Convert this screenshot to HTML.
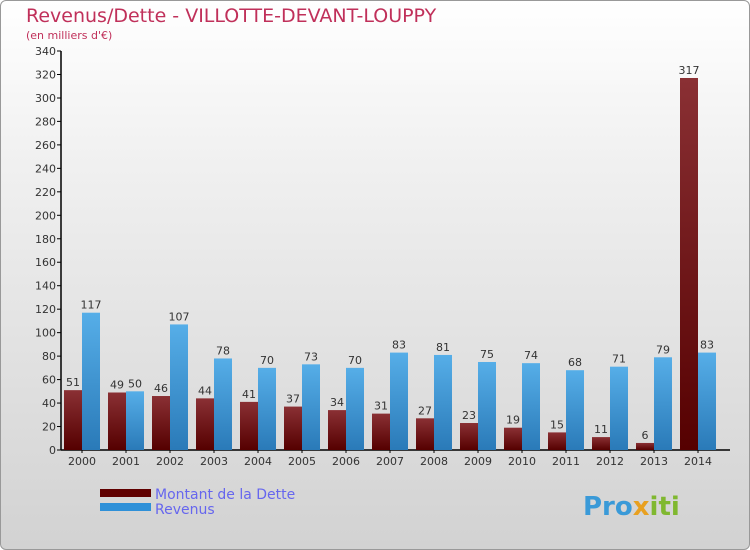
<!DOCTYPE html>
<html><head><meta charset="utf-8"><style>
body{margin:0}
#c{width:748px;height:548px;border:1px solid #999;border-radius:6px;overflow:hidden;background:linear-gradient(#ffffff,#f0f0f0 30%,#d2d2d2);position:relative;font-family:"DejaVu Sans","Liberation Sans",sans-serif}
</style></head><body>
<div id="c">
<svg width="750" height="550" style="position:absolute;left:-1px;top:-1px" id="svg">
<defs>
<linearGradient id="gd" x1="0" y1="0" x2="0" y2="1"><stop offset="0" stop-color="#8a3034"/><stop offset="1" stop-color="#550000"/></linearGradient>
<linearGradient id="gr" x1="0" y1="0" x2="0" y2="1"><stop offset="0" stop-color="#56aee8"/><stop offset="1" stop-color="#2a7ab8"/></linearGradient>
</defs>
<text x="26" y="22" font-size="19" fill="#c0305a">Revenus/Dette - VILLOTTE-DEVANT-LOUPPY</text>
<text x="26" y="39" font-size="11" fill="#c0305a">(en milliers d'€)</text>
<g id="axes"></g><g id="bars"></g>
<rect x="100" y="489" width="51" height="8" fill="#600000"/>
<rect x="100" y="503" width="51" height="8" fill="#2e90d8"/>
<text x="155" y="499" font-size="14" fill="#6666ee">Montant de la Dette</text>
<text x="155" y="514" font-size="14" fill="#6666ee">Revenus</text>
<text x="583" y="515" font-size="26" font-weight="bold" fill="#3a9ad8">Pro<tspan fill="#e8a020">x</tspan><tspan fill="#80b830">iti</tspan></text>
</svg>
</div>
<script>
const years=["2000","2001","2002","2003","2004","2005","2006","2007","2008","2009","2010","2011","2012","2013","2014"];
const dette=[51,49,46,44,41,37,34,31,27,23,19,15,11,6,317];
const revenus=[117,50,107,78,70,73,70,83,81,75,74,68,71,79,83];
const ticks=[0,20,40,60,80,100,120,140,160,180,200,220,240,260,280,300,320,340];
const NS="http://www.w3.org/2000/svg";
const y0=450,yTop=51,vmax=340,x0=64,step=44,bw=18;
const Y=v=>y0-(v/vmax)*(y0-yTop);
const X=i=>x0+step*i;
function mk(t,a,p){const e=document.createElementNS(NS,t);for(const k in a)e.setAttribute(k,a[k]);p.appendChild(e);return e;}
const ax=document.getElementById('axes'),bg=document.getElementById('bars');
const yl=mk('line',{x1:61,y1:yTop,x2:61,y2:y0,stroke:'#000','stroke-width':1.5},ax);


const xl=mk('line',{x1:61,y1:y0,x2:730,y2:y0,stroke:'#000','stroke-width':1.5},ax);


ticks.forEach(t=>{
 mk('line',{x1:57,x2:61,y1:Y(t),y2:Y(t),stroke:'#000'},ax);
 const tx=mk('text',{x:56,y:Y(t)+4,'text-anchor':'end','font-size':11,fill:'#333'},ax);
 tx.textContent=t;
 
 
});
years.forEach((yr,i)=>{
 const x=X(i);
 const d=mk('rect',{x:x,y:Y(dette[i]),width:bw,height:y0-Y(dette[i]),fill:'url(#gd)'},bg);
 
 
 const r=mk('rect',{x:x+bw,y:Y(revenus[i]),width:bw,height:y0-Y(revenus[i]),fill:'url(#gr)'},bg);
 
 
 const dl=mk('text',{x:x+bw/2,y:Y(dette[i])-4,'text-anchor':'middle','font-size':11,fill:'#333'},bg);
 dl.textContent=dette[i];
 
 
 const rl=mk('text',{x:x+bw*1.5,y:Y(revenus[i])-4,'text-anchor':'middle','font-size':11,fill:'#333'},bg);
 rl.textContent=revenus[i];
 
 
 const xt=mk('text',{x:x+bw,y:465,'text-anchor':'middle','font-size':11,fill:'#333'},bg);
 xt.textContent=yr;
 
 
 mk('line',{x1:x+bw,x2:x+bw,y1:y0,y2:y0+3,stroke:'#000'},ax);
});
</script>
</body></html>
